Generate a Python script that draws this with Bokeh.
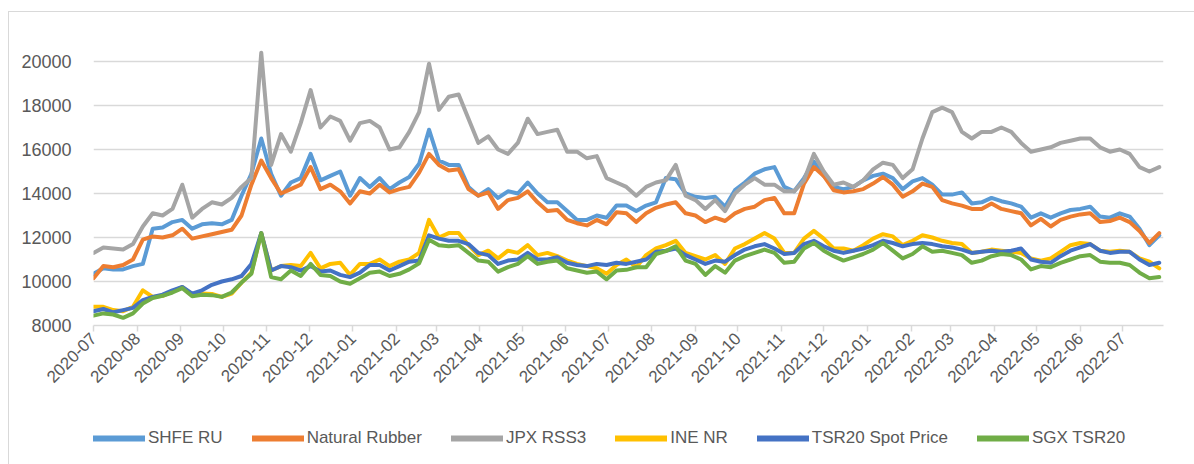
import math
import pandas as pd
from bokeh.plotting import figure
from bokeh.layouts import column
from bokeh.models import Range1d, FixedTicker, DatetimeTickFormatter, Legend
from bokeh.embed import file_html
from bokeh.resources import INLINE

# weekly sampling grid (Wednesdays) from 2020-07-01
dates = pd.date_range("2020-07-01", periods=109, freq="7D")

shfe_ru = [10350, 10600, 10550, 10550, 10700, 10800, 12400, 12450, 12700, 12800, 12400, 12600, 12650, 12600,
           12800, 13900, 14900, 16500, 14900, 13900, 14500, 14700, 15800, 14600, 14800, 15000, 13900, 14700,
           14300, 14700, 14200, 14500, 14750, 15350, 16900, 15500, 15300, 15300, 14300, 13900, 14200, 13800,
           14100, 14000, 14500, 14000, 13600, 13600, 13200, 12800, 12800, 13000, 12900, 13450,
           13450, 13200, 13450, 13600, 14700, 14650, 14000, 13850, 13800, 13850, 13400, 14150, 14500, 14900,
           15100, 15200, 14300, 14100, 14700, 15450, 14800, 14300, 14200, 14300, 14600, 14800, 14900,
           14700, 14200, 14550, 14700, 14400, 13950, 13950, 14050, 13550, 13600, 13800, 13650, 13550, 13400,
           12900, 13100, 12900, 13100, 13250, 13300, 13400, 12950, 12900, 13100, 12950, 12400, 11650, 12100]

natural_rubber = [10150, 10700, 10650, 10750, 11000, 11900, 12050, 12000, 12100, 12400, 11950, 12050, 12150, 12250,
                  12350, 13000, 14400, 15500, 14700, 14000, 14200, 14400, 15200, 14200, 14400, 14100, 13550, 14100,
                  14000, 14400, 14050, 14200, 14300, 14950, 15800, 15300, 15050, 15100, 14200, 13900, 14050, 13300,
                  13700, 13800, 14100, 13600, 13200, 13250, 12800, 12650, 12550, 12800, 12600, 13150,
                  13100, 12700, 13100, 13350, 13500, 13600, 13100, 13000, 12700, 12900, 12750, 13100, 13300, 13400,
                  13700, 13800, 13100, 13100, 14450, 15200, 14800, 14150, 14050, 14100, 14200, 14450, 14750,
                  14400, 13850, 14100, 14450, 14300, 13700, 13550, 13450, 13300, 13300, 13550, 13300, 13200, 13100,
                  12550, 12850, 12500, 12800, 12950, 13050, 13100, 12700, 12750, 12900, 12700, 12300, 11750, 12200]

jpx_rss3 = [11300, 11550, 11500, 11450, 11700, 12500, 13100, 13000, 13300, 14400, 12900, 13300, 13600, 13500,
            13800, 14300, 14700, 20400, 15300, 16700, 15900, 17200, 18700, 17000, 17500, 17300, 16400, 17200,
            17300, 17000, 16000, 16100, 16800, 17700, 19900, 17800, 18400, 18500, 17400, 16300, 16600, 16000,
            15800, 16300, 17400, 16700, 16800, 16900, 15900, 15900, 15600, 15700, 14700, 14500,
            14300, 13900, 14300, 14500, 14600, 15300, 13900, 13700, 13300, 13700, 13200, 14000, 14400, 14700,
            14400, 14400, 14100, 14100, 14600, 15800, 15000, 14400, 14500, 14300, 14600, 15100, 15400,
            15300, 14700, 15100, 16500, 17700, 17900, 17700, 16800, 16500, 16800, 16800, 17000, 16800, 16300,
            15900, 16000, 16100, 16300, 16400, 16500, 16500, 16100, 15900, 16000, 15800, 15200, 15000, 15200]

ine_nr = [8850, 8850, 8700, 8650, 8850, 9600, 9300, 9350, 9550, 9750, 9400, 9450, 9430, 9300,
          9450, 9950, 10400, 12200, 10500, 10700, 10750, 10700, 11300, 10600, 10800, 10850, 10300, 10800,
          10800, 11000, 10700, 10900, 11000, 11300, 12800, 12000, 12200, 12200, 11650, 11200, 11400, 11050,
          11400, 11300, 11650, 11200, 11300, 11150, 10950, 10800, 10700, 10600, 10350, 10750,
          11000, 10650, 11200, 11500, 11650, 11850, 11300, 11150, 11000, 11200, 10800, 11500, 11700, 11950,
          12200, 11950, 11300, 11300, 11950, 12300, 11950, 11500, 11500, 11400, 11650, 11950, 12150,
          12050, 11650, 11850, 12100, 12000, 11850, 11750, 11700, 11300, 11350, 11450, 11400, 11350, 11300,
          11050, 10950, 11050, 11350, 11650, 11750, 11700, 11400, 11350, 11400, 11350, 11050, 10900, 10600]

tsr20_spot = [8650, 8750, 8600, 8700, 8800, 9150, 9300, 9400, 9600, 9750, 9450, 9600, 9850, 10000,
              10100, 10250, 10800, 12200, 10500, 10700, 10650, 10500, 10700, 10450, 10500, 10300, 10200, 10400,
              10750, 10750, 10500, 10700, 10900, 10950, 12100, 11950, 11850, 11850, 11700, 11300, 11200, 10800,
              10950, 11000, 11300, 11000, 11000, 11100, 10850, 10750, 10700, 10800, 10750, 10850,
              10800, 10900, 11000, 11350, 11400, 11500, 11200, 11000, 10800, 10950, 10900, 11200, 11450, 11600,
              11700, 11500, 11250, 11300, 11700, 11850, 11600, 11400, 11300, 11400, 11500, 11650, 11850,
              11750, 11600, 11700, 11750, 11700, 11600, 11550, 11450, 11300, 11350, 11400, 11350, 11400, 11500,
              11000, 10900, 10850, 11150, 11400, 11550, 11700, 11400, 11300, 11350, 11350, 11000, 10750, 10850]

sgx_tsr20 = [8450, 8550, 8500, 8350, 8550, 9000, 9250, 9350, 9500, 9700, 9330, 9400, 9380, 9300,
             9500, 9950, 10350, 12200, 10200, 10100, 10500, 10250, 10800, 10300, 10250, 10000, 9900, 10150,
             10400, 10450, 10250, 10350, 10550, 10830, 11900, 11650, 11600, 11650, 11300, 10950, 10900, 10450,
             10650, 10800, 11150, 10800, 10900, 10950, 10600, 10500, 10400, 10450, 10100, 10500,
             10530, 10650, 10650, 11250, 11380, 11600, 10950, 10800, 10300, 10700, 10400, 10950, 11150, 11300,
             11450, 11300, 10850, 10900, 11500, 11750, 11400, 11150, 10950, 11100, 11250, 11450, 11750,
             11400, 11050, 11250, 11600, 11350, 11400, 11300, 11200, 10850, 10950, 11150, 11250, 11200, 11000,
             10550, 10700, 10650, 10850, 11000, 11150, 11200, 10900, 10850, 10850, 10750, 10400, 10150, 10200]

series_names = ["SHFE RU", "Natural Rubber", "JPX RSS3", "INE NR", "TSR20 Spot Price", "SGX TSR20"]
series_values = [shfe_ru, natural_rubber, jpx_rss3, ine_nr, tsr20_spot, sgx_tsr20]
series_colors = ["#5B9BD5", "#ED7D31", "#A5A5A5", "#FFC000", "#4472C4", "#70AD47"]

month_labels = ["2020-07", "2020-08", "2020-09", "2020-10", "2020-11", "2020-12",
                "2021-01", "2021-02", "2021-03", "2021-04", "2021-05", "2021-06",
                "2021-07", "2021-08", "2021-09", "2021-10", "2021-11", "2021-12",
                "2022-01", "2022-02", "2022-03", "2022-04", "2022-05", "2022-06", "2022-07"]
y_ticks = [8000, 10000, 12000, 14000, 16000, 18000, 20000]

FONT = "Liberation Sans"
TXT = "#595959"
GRID = "#d9d9d9"
LW = 4

# ---- main chart: frame x 93..1163, y 39..325 (layout starts at x=9, y=12 inside the chart border)
p = figure(width=1185, height=406, x_axis_type="datetime",
           output_backend="svg", toolbar_location=None,
           x_range=Range1d(pd.Timestamp("2020-07-01"), pd.Timestamp("2022-07-30")),
           y_range=Range1d(8000, 21000),
           min_border_left=84, min_border_right=31, min_border_top=27, min_border_bottom=93)
p.outline_line_color = None
p.background_fill_color = "white"
p.border_fill_color = "white"

p.xgrid.visible = False
p.ygrid.grid_line_color = GRID
p.ygrid.grid_line_width = 1.5

for name, vals, col in zip(series_names, series_values, series_colors):
    p.line(x=dates, y=vals, line_color=col, line_width=LW, line_join="round", line_cap="round")

p.yaxis.ticker = FixedTicker(ticks=y_ticks)
p.yaxis.axis_line_color = None
p.yaxis.major_tick_line_color = None
p.yaxis.minor_tick_line_color = None
p.yaxis.major_label_text_font = FONT
p.yaxis.major_label_text_font_size = "18px"
p.yaxis.major_label_text_color = TXT
p.yaxis.major_label_standoff = 16

month_ticks = [pd.Timestamp(m + "-01").value // 10**6 for m in month_labels]
p.xaxis.ticker = FixedTicker(ticks=month_ticks)
fmt = "%Y-%m"
p.xaxis.formatter = DatetimeTickFormatter(days=fmt, months=fmt, years=fmt, hours=fmt, hourmin=fmt,
                                          minutes=fmt, minsec=fmt, seconds=fmt, milliseconds=fmt,
                                          microseconds=fmt)
p.xaxis.major_label_orientation = math.pi / 4
p.xaxis.axis_line_color = GRID
p.xaxis.axis_line_width = 1.5
p.xaxis.major_tick_line_color = GRID
p.xaxis.major_tick_line_width = 1.5
p.xaxis.major_tick_in = 0
p.xaxis.major_tick_out = 6
p.xaxis.minor_tick_line_color = None
p.xaxis.major_label_text_font = FONT
p.xaxis.major_label_text_font_size = "17px"
p.xaxis.major_label_text_color = TXT
p.xaxis.major_label_standoff = 4

# ---- legend strip (same series, drawn outside its visible range so only the legend shows)
lg = figure(width=1185, height=46, output_backend="svg", toolbar_location=None,
            x_axis_type="datetime",
            x_range=Range1d(0, 1), y_range=Range1d(0, 1),
            x_axis_location=None, y_axis_location=None,
            min_border=0)
lg.outline_line_color = None
lg.xgrid.visible = False
lg.ygrid.visible = False
items = []
for name, vals, col in zip(series_names, series_values, series_colors):
    r = lg.line(x=dates, y=vals, line_color=col, line_width=6, line_cap="round")
    items.append((name, [r]))
legend = Legend(items=items, orientation="horizontal", location=(0, 16),
                glyph_width=52, glyph_height=20, label_standoff=3, spacing=29,
                padding=0, margin=0, border_line_color=None, background_fill_alpha=0,
                label_text_font=FONT, label_text_font_size="17px", label_text_color=TXT)
lg.add_layout(legend)

layout = column(p, lg, spacing=0)
layout.styles = {"border-top": "1px solid #d9d9d9", "border-left": "1px solid #d9d9d9",
                 "margin-left": "8px", "margin-top": "11px"}
open("out.html", "w").write(file_html(layout, INLINE))
